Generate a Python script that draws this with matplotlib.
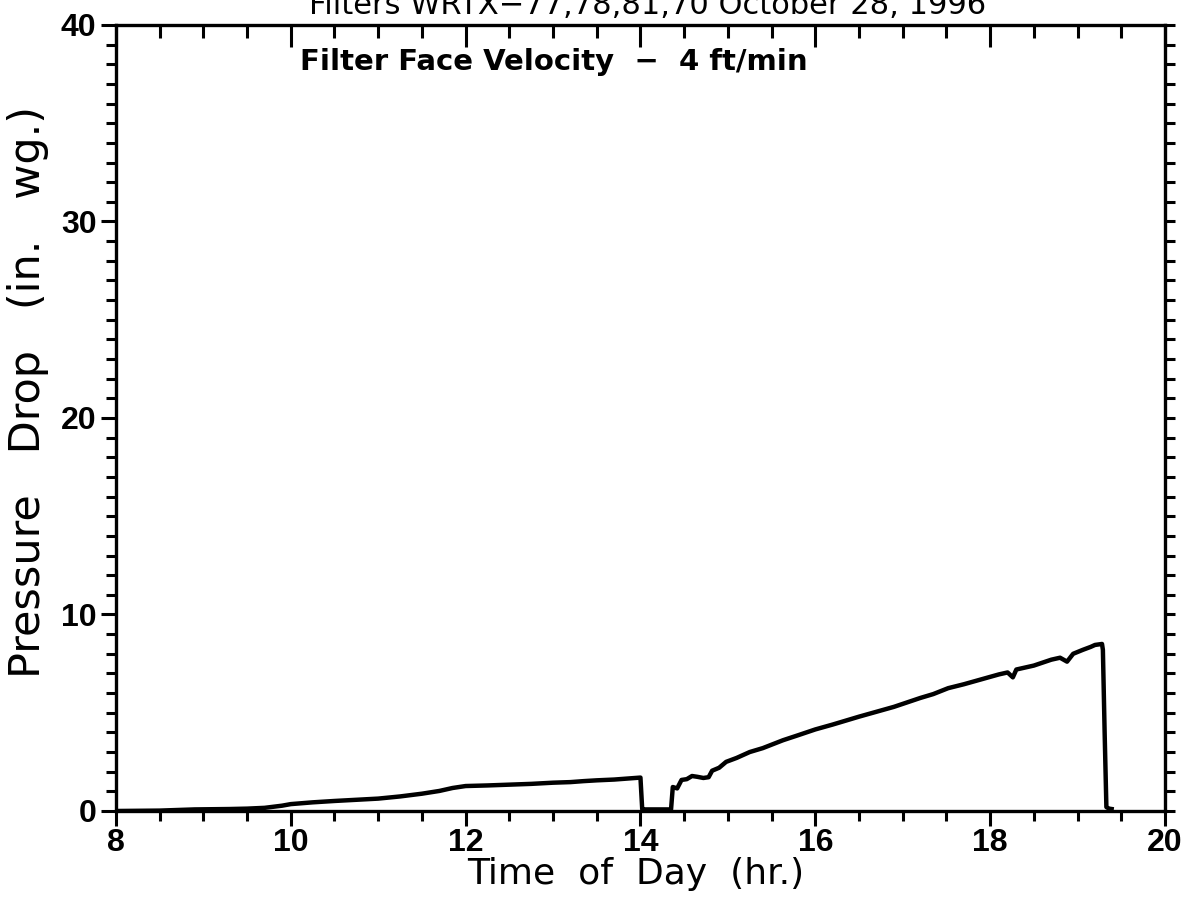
import matplotlib.pyplot as plt
from matplotlib.ticker import MultipleLocator

# filter pressure drop vs time of day
hours = [8.0, 8.5, 8.9, 9.3, 9.5, 9.7, 9.9, 10.0, 10.25, 10.5, 10.75, 11.0,
         11.25, 11.5, 11.7, 11.85, 12.0, 12.25, 12.5, 12.75, 13.0, 13.2,
         13.35, 13.5, 13.7, 13.85, 14.0, 14.02, 14.05, 14.35, 14.37, 14.42,
         14.47, 14.53, 14.59, 14.65, 14.72, 14.78, 14.82, 14.9, 14.98, 15.1,
         15.25, 15.4, 15.63, 15.8, 16.0, 16.2, 16.35, 16.5, 16.7, 16.9, 17.0,
         17.2, 17.35, 17.52, 17.7, 17.9, 18.1, 18.2, 18.26, 18.3, 18.5, 18.6,
         18.7, 18.8, 18.88, 18.95, 19.06, 19.15, 19.2, 19.28, 19.29, 19.31,
         19.33, 19.36, 19.39]
dp = [0.0, 0.02, 0.08, 0.1, 0.12, 0.16, 0.27, 0.35, 0.44, 0.51, 0.57, 0.63,
      0.74, 0.88, 1.02, 1.17, 1.27, 1.3, 1.34, 1.38, 1.44, 1.47, 1.52, 1.56,
      1.6, 1.65, 1.7, 0.1, 0.08, 0.08, 1.22, 1.15, 1.58, 1.62, 1.78, 1.74,
      1.68, 1.72, 2.05, 2.2, 2.5, 2.7, 3.0, 3.2, 3.6, 3.85, 4.15, 4.4, 4.6,
      4.8, 5.05, 5.3, 5.45, 5.75, 5.95, 6.25, 6.45, 6.7, 6.95, 7.05, 6.8,
      7.2, 7.4, 7.55, 7.7, 7.8, 7.6, 8.0, 8.2, 8.35, 8.45, 8.5, 8.2, 4.0,
      0.2, 0.12, 0.1]

x_ticks = [8, 10, 12, 14, 16, 18, 20]
y_ticks = [0, 10, 20, 30, 40]

title_txt = 'Filters WRTX\u221277,78,81,70 October 28, 1996'
note_txt = 'Filter Face Velocity  \u2212  4 ft/min'

plt.rcParams['font.family'] = ['DejaVu Sans']

fig = plt.figure(figsize=(11.88, 9.02), dpi=100)
ax = fig.add_axes([0.0976, 0.1009, 0.883, 0.8714])

ax.plot(hours, dp, color='black', linewidth=3.2, solid_joinstyle='round')

ax.set_xlim(8, 20)
ax.set_ylim(0, 40)
ax.set_xticks(x_ticks)
ax.set_yticks(y_ticks)
ax.xaxis.set_minor_locator(MultipleLocator(0.5))
ax.yaxis.set_minor_locator(MultipleLocator(1))

for s in ax.spines.values():
    s.set_linewidth(2.4)

# every tick in the original points left / down
ax.tick_params(axis='x', which='major', direction='out', length=11, width=2.2,
               labelsize=23, pad=1, top=True)
ax.tick_params(axis='x', which='minor', direction='out', length=7, width=2.2,
               top=True)
ax.tick_params(axis='y', which='major', direction='out', length=11, width=2.2,
               labelsize=23, pad=3, right=True)
ax.tick_params(axis='y', which='minor', direction='out', length=7, width=2.2,
               right=True)
for t in ax.xaxis.get_major_ticks():
    t.tick2line.set_marker(3)  # TICKDOWN on top
    t.tick2line.set_markersize(16)
for t in ax.xaxis.get_minor_ticks():
    t.tick2line.set_marker(3)
    t.tick2line.set_markersize(9)
for t in ax.yaxis.get_major_ticks():
    t.tick2line.set_marker(1)  # TICKLEFT on right
    t.tick2line.set_markersize(7)
for t in ax.yaxis.get_minor_ticks():
    t.tick2line.set_marker(1)
    t.tick2line.set_markersize(7)

for lab in ax.get_xticklabels() + ax.get_yticklabels():
    lab.set_fontweight('bold')
    lab.set_fontfamily(['Liberation Sans', 'DejaVu Sans'])

ax.set_xlabel('Time  of  Day  (hr.)', fontsize=26, va='top')
ax.xaxis.set_label_coords(0.495, -0.058)
ax.set_ylabel('Pressure   Drop   (in.   wg.)', fontsize=31, va='center')
ax.yaxis.set_label_coords(-0.084, 0.533)

fig.text(0.545, 0.9845, title_txt, fontsize=22, ha='center', va='baseline')
ax.text(0.175, 0.953, note_txt, transform=ax.transAxes, fontsize=21,
        fontweight='bold', ha='left', va='center')

fig.savefig('out.png', dpi=100, facecolor='white')
